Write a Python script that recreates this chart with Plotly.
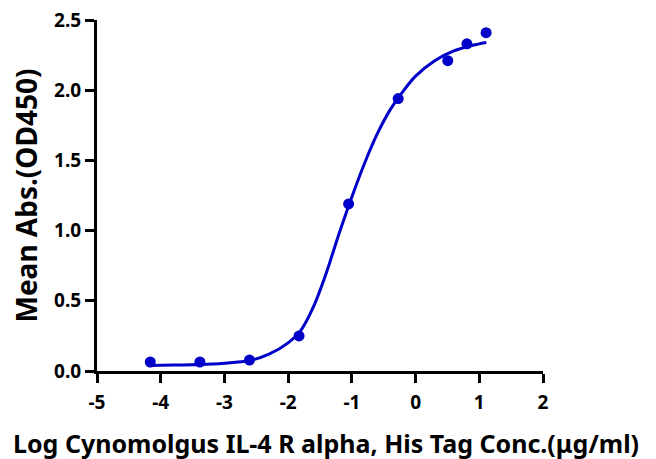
import plotly.graph_objects as go

# Measured points (log concentration, mean OD450)
log_conc = [1.107, 0.806, 0.505, -0.273, -1.051, -1.829, -2.607, -3.385, -4.164]
mean_abs = [2.41, 2.33, 2.21, 1.94, 1.19, 0.25, 0.078, 0.064, 0.064]

# Fitted curve
curve_x = [-4.16, -3.8, -3.4, -3.0, -2.6, -2.3, -2.0, -1.8, -1.6, -1.4, -1.2,
           -1.0, -0.8, -0.6, -0.4, -0.2, 0.0, 0.3, 0.6, 0.9, 1.11]
curve_y = [0.040, 0.042, 0.046, 0.056, 0.075, 0.12, 0.20, 0.29, 0.46, 0.70, 0.98,
           1.24, 1.48, 1.69, 1.86, 1.99, 2.10, 2.21, 2.28, 2.32, 2.34]

x_ticks = [-5, -4, -3, -2, -1, 0, 1, 2]
x_tick_labels = ["-5", "-4", "-3", "-2", "-1", "0", "1", "2"]
y_ticks = [0.0, 0.5, 1.0, 1.5, 2.0, 2.5]
y_tick_labels = ["0.0", "0.5", "1.0", "1.5", "2.0", "2.5"]

x_title = "Log Cynomolgus IL-4 R alpha, His Tag Conc.(μg/ml)"
y_title = "Mean Abs.(OD450)"

blue = "#0000C8"

fig = go.Figure()
fig.add_trace(go.Scatter(x=curve_x, y=curve_y, mode="lines",
                         line=dict(color=blue, width=3, shape="spline", smoothing=0.8),
                         hoverinfo="skip", showlegend=False))
fig.add_trace(go.Scatter(x=log_conc, y=mean_abs, mode="markers",
                         marker=dict(color=blue, size=11), showlegend=False))

tick_font = dict(family="Noto Sans", size=19, color="black", weight="bold")

# page body has an 8px margin: figure is shrunk by 8px so the plot lands where the reference has it
fig.update_layout(
    width=648, height=451,
    margin=dict(l=89, r=113, t=12, b=88, autoexpand=False),
    plot_bgcolor="white", paper_bgcolor="white",
    xaxis=dict(range=[-5, 2], tickvals=x_ticks, ticktext=x_tick_labels,
               showgrid=False, zeroline=False, automargin=False,
               showline=True, linecolor="black", linewidth=3,
               ticks="outside", ticklen=9, tickwidth=3, tickcolor="black",
               tickfont=tick_font, ticklabeloverflow="allow", ticklabelstandoff=3),
    yaxis=dict(range=[0, 2.5], tickvals=y_ticks, ticktext=y_tick_labels,
               showgrid=False, zeroline=False, automargin=False,
               showline=True, linecolor="black", linewidth=3,
               ticks="outside", ticklen=9, tickwidth=3, tickcolor="black",
               tickfont=tick_font, ticklabeloverflow="allow"),
    annotations=[
        dict(text=x_title, xref="paper", yref="paper", x=0.5, y=0,
             xanchor="center", yanchor="middle", yshift=-72, xshift=6, showarrow=False,
             font=dict(family="Noto Sans", size=25, color="black", weight="bold")),
        dict(text=y_title, xref="paper", yref="paper", x=0, y=0.5,
             xanchor="center", yanchor="middle", xshift=-72, textangle=-90,
             showarrow=False,
             font=dict(family="Noto Sans", size=28, color="black", weight="bold")),
    ],
)

fig.write_html("out.html")
